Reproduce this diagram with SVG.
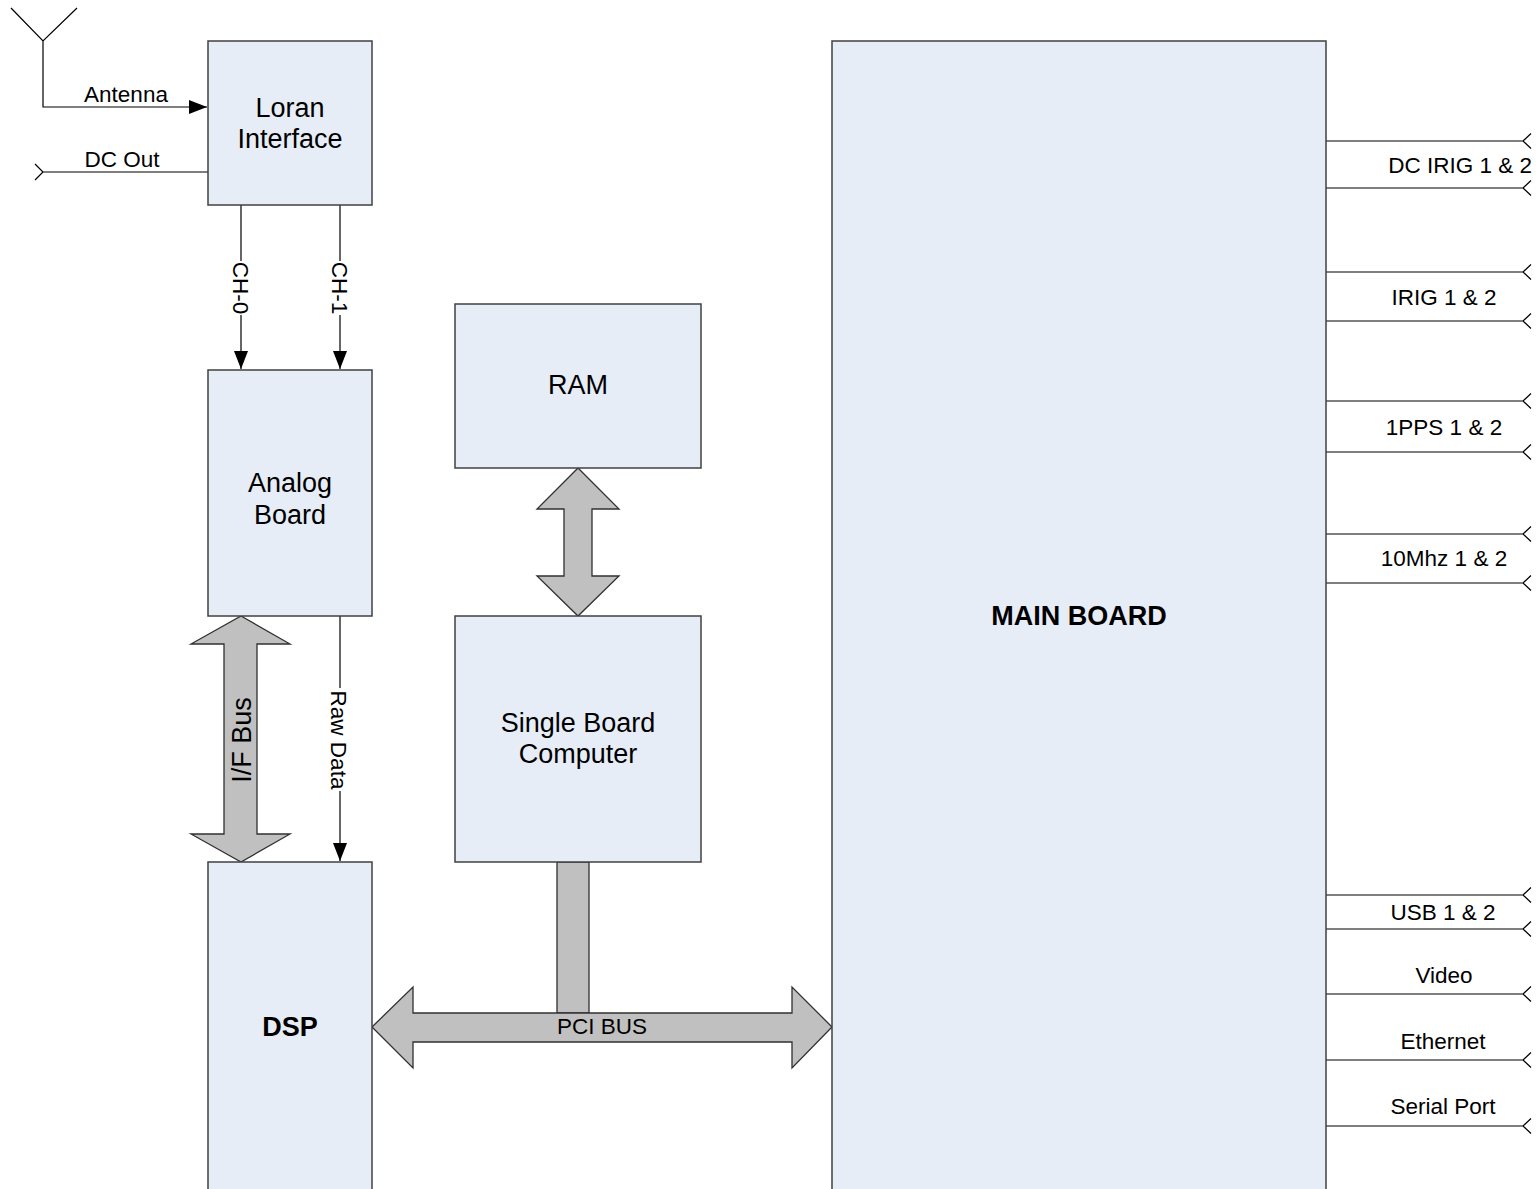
<svg xmlns="http://www.w3.org/2000/svg" width="1539" height="1189" viewBox="0 0 1539 1189">
<style>
.box{fill:#e7edf7;stroke:#404040;stroke-width:1.5}
.bus{fill:#c0c0c0;stroke:#303030;stroke-width:1.3}
.ln{fill:none;stroke:#000;stroke-width:1.2}
.t{font-family:"Liberation Sans",Arial,sans-serif;fill:#000}
.big{font-size:27px}
.sm{font-size:22.5px}
.b{font-weight:bold}
</style>
<defs>
<marker id="ah" viewBox="0 0 18 14" refX="18" refY="7" markerWidth="18" markerHeight="14" markerUnits="userSpaceOnUse" orient="auto">
<path d="M0,0 L18,7 L0,14 Z" fill="#000"/>
</marker>
</defs>
<rect width="1539" height="1189" fill="#fff"/>

<g id="connectors">
<path class="ln" d="M11,8 L43,41 L77,8 M43,41 L43,107 L207,107" marker-end="url(#ah)"/>
<path class="ln" d="M208,172 L43,172 M35,164 L43,172 L35,180"/>
<path class="ln" d="M241,205 L241,261"/>
<path class="ln" d="M241,315 L241,369" marker-end="url(#ah)"/>
<path class="ln" d="M340,205 L340,261"/>
<path class="ln" d="M340,315 L340,369" marker-end="url(#ah)"/>
<path class="ln" d="M340,616 L340,688"/>
<path class="ln" d="M340,791 L340,861" marker-end="url(#ah)"/>
<polygon id="ifbus" class="bus" points="241,616 290,644 257,644 257,834 290,834 241,862 191,834 224,834 224,644 191,644"/>
<polygon id="ramsbc" class="bus" points="578,468 619,509 592,509 592,576 619,576 578,616 537,576 564,576 564,509 537,509"/>
<rect class="bus" x="557" y="862" width="32" height="151"/>
<polygon id="pcibus" class="bus" points="372,1027 413,987 413,1013 792,1013 792,987 832,1027 792,1068 792,1042 413,1042 413,1068"/>
<g class="ln">
<path d="M1326,141 L1523,141 M1531,133.5 L1523,141 L1531,148.5"/>
<path d="M1326,188 L1523,188 M1531,180.5 L1523,188 L1531,195.5"/>
<path d="M1326,272 L1523,272 M1531,264.5 L1523,272 L1531,279.5"/>
<path d="M1326,321 L1523,321 M1531,313.5 L1523,321 L1531,328.5"/>
<path d="M1326,401 L1523,401 M1531,393.5 L1523,401 L1531,408.5"/>
<path d="M1326,452 L1523,452 M1531,444.5 L1523,452 L1531,459.5"/>
<path d="M1326,534 L1523,534 M1531,526.5 L1523,534 L1531,541.5"/>
<path d="M1326,583 L1523,583 M1531,575.5 L1523,583 L1531,590.5"/>
<path d="M1326,895 L1523,895 M1531,887.5 L1523,895 L1531,902.5"/>
<path d="M1326,929 L1523,929 M1531,921.5 L1523,929 L1531,936.5"/>
<path d="M1326,994 L1523,994 M1531,986.5 L1523,994 L1531,1001.5"/>
<path d="M1326,1060 L1523,1060 M1531,1052.5 L1523,1060 L1531,1067.5"/>
<path d="M1326,1126 L1523,1126 M1531,1118.5 L1523,1126 L1531,1133.5"/>
</g>
<text class="t sm" x="126" y="102" text-anchor="middle">Antenna</text>
<text class="t sm" x="122" y="167" text-anchor="middle">DC Out</text>
<text class="t sm" transform="translate(241,288) rotate(90)" y="8" text-anchor="middle">CH-0</text>
<text class="t sm" transform="translate(340,288) rotate(90)" y="8" text-anchor="middle">CH-1</text>
<text class="t sm" transform="translate(339,740) rotate(90)" y="8" text-anchor="middle">Raw Data</text>
<text class="t big" transform="translate(241,740) rotate(-90)" y="9.5" text-anchor="middle">I/F Bus</text>
<text class="t sm" x="602" y="1034" text-anchor="middle">PCI BUS</text>
<text class="t sm" x="1532" y="173" text-anchor="end">DC IRIG 1 &amp; 2</text>
<text class="t sm" x="1444" y="305" text-anchor="middle">IRIG 1 &amp; 2</text>
<text class="t sm" x="1444" y="435" text-anchor="middle">1PPS 1 &amp; 2</text>
<text class="t sm" x="1444" y="566" text-anchor="middle">10Mhz 1 &amp; 2</text>
<text class="t sm" x="1443" y="920" text-anchor="middle">USB 1 &amp; 2</text>
<text class="t sm" x="1444" y="983" text-anchor="middle">Video</text>
<text class="t sm" x="1443" y="1049" text-anchor="middle">Ethernet</text>
<text class="t sm" x="1443" y="1114" text-anchor="middle">Serial Port</text>
</g>

<g id="loran">
<rect class="box" x="208" y="41" width="164" height="164"/>
<text class="t big" x="290" y="117" text-anchor="middle">Loran</text>
<text class="t big" x="290" y="148" text-anchor="middle">Interface</text>
</g>
<g id="analog">
<rect class="box" x="208" y="370" width="164" height="246"/>
<text class="t big" x="290" y="492" text-anchor="middle">Analog</text>
<text class="t big" x="290" y="524" text-anchor="middle">Board</text>
</g>
<g id="dsp">
<rect class="box" x="208" y="862" width="164" height="340"/>
<text class="t big b" x="290" y="1036" text-anchor="middle">DSP</text>
</g>
<g id="ram">
<rect class="box" x="455" y="304" width="246" height="164"/>
<text class="t big" x="578" y="394" text-anchor="middle">RAM</text>
</g>
<g id="sbc">
<rect class="box" x="455" y="616" width="246" height="246"/>
<text class="t big" x="578" y="732" text-anchor="middle">Single Board</text>
<text class="t big" x="578" y="763" text-anchor="middle">Computer</text>
</g>
<g id="mainboard">
<rect class="box" x="832" y="41" width="494" height="1161"/>
<text class="t big b" x="1079" y="625" text-anchor="middle">MAIN BOARD</text>
</g>
</svg>
